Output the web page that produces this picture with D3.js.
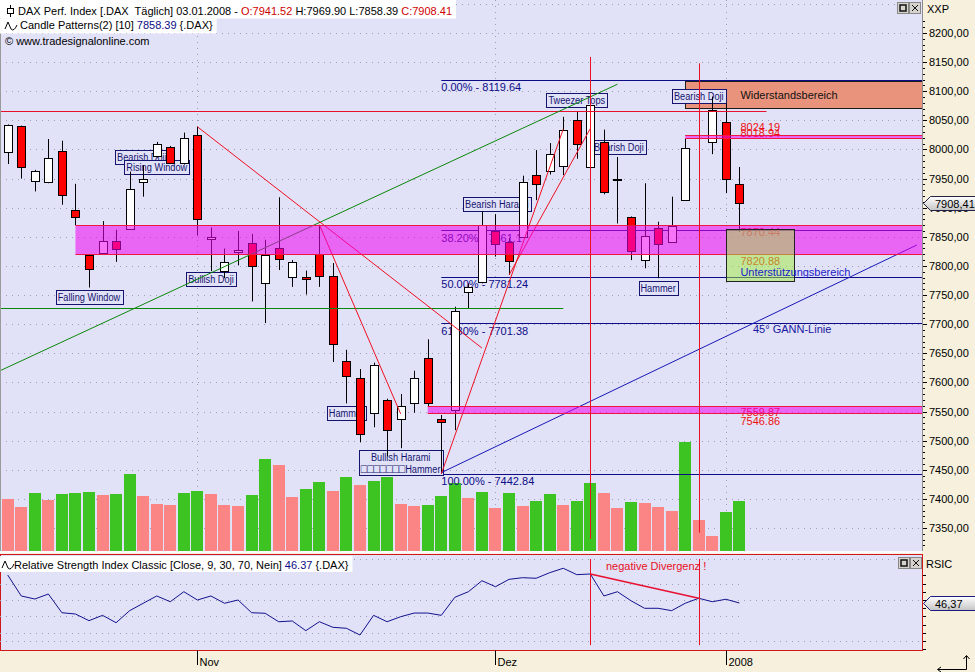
<!DOCTYPE html>
<html>
<head>
<meta charset="utf-8">
<title>DAX Perf. Index – Candle Patterns</title>
<script src="https://cdn.jsdelivr.net/npm/d3@7/dist/d3.min.js"></script>
<style>
  html, body { margin: 0; padding: 0; background: #f6f0dc; }
  svg { display: block; font-family: "Liberation Sans", Arial, sans-serif; font-size: 11px; }
  text { white-space: pre; }
</style>
</head>
<body>
<svg id="chart" width="975" height="672"></svg>
<script>
// ---- Daily DAX bars, 12.10.2007 – 03.01.2008 ----
const dates = [
  "2007-10-12","2007-10-15","2007-10-16","2007-10-17","2007-10-18","2007-10-19","2007-10-22","2007-10-23",
  "2007-10-24","2007-10-25","2007-10-26","2007-10-29","2007-10-30","2007-10-31","2007-11-01","2007-11-02",
  "2007-11-05","2007-11-06","2007-11-07","2007-11-08","2007-11-09","2007-11-12","2007-11-13","2007-11-14",
  "2007-11-15","2007-11-16","2007-11-19","2007-11-20","2007-11-21","2007-11-22","2007-11-23","2007-11-26",
  "2007-11-27","2007-11-28","2007-11-29","2007-11-30","2007-12-03","2007-12-04","2007-12-05","2007-12-06",
  "2007-12-07","2007-12-10","2007-12-11","2007-12-12","2007-12-13","2007-12-14","2007-12-17","2007-12-18",
  "2007-12-19","2007-12-20","2007-12-21","2007-12-27","2007-12-28","2008-01-02","2008-01-03"
];
const open = [
  7995, 8040, 7945, 7943, 7997, 7896, 7818, 7822, 7842, 7864, 7944, 7989, 8004, 7976, 8025, 7846,
  7791, 7823, 7839, 7770, 7830, 7781, 7781, 7821, 7782, 7636, 7607, 7548, 7570, 7538, 7564, 7642,
  7537, 7552, 7755, 7772, 7860, 7841, 7850, 7957, 7963, 7972, 8051, 7969, 8013, 7950, 7884, 7809,
  7865, 7842, 7913, 8038, 8012, 8047, 7941.52
];
const high = [
  8043, 8041, 7965, 8018, 8015, 7941, 7819, 7877, 7862, 7962, 7973, 8013, 8006, 8029, 8039, 7866,
  7830, 7860, 7855, 7845, 7918, 7810, 7792, 7870, 7805, 7656, 7623, 7634, 7572, 7580, 7620, 7674,
  7544, 7730, 7770, 7894, 7889, 7848, 7955, 7999, 8011, 8056, 8065, 8078, 8034, 7987, 7885, 7942,
  7876, 7919, 8018, 8042, 8091, 8079, 7969.90
];
const low = [
  7975, 7950, 7928, 7942, 7905, 7870, 7763, 7821, 7807, 7862, 7919, 7986, 7975, 7974, 7852, 7791,
  7779, 7801, 7739, 7702, 7793, 7764, 7751, 7764, 7635, 7564, 7497, 7523, 7473, 7487, 7548, 7558,
  7442.84, 7518, 7727, 7770, 7816, 7784.5, 7848, 7913, 7957, 7956, 7984, 7968, 7923, 7873, 7810, 7796,
  7779, 7841, 7912, 8031, 7992, 7925, 7858.39
];
const close = [
  8042, 7969, 7963, 7985, 7921, 7884, 7794, 7842, 7829, 7932, 7949, 8009, 7977, 8019, 7880, 7850,
  7806, 7827, 7800, 7818, 7811, 7806, 7777, 7783, 7666, 7610, 7511, 7630, 7518, 7560, 7607, 7565,
  7531, 7722, 7764, 7870, 7837, 7808, 7944, 7941, 7993, 8034, 8009, 8076, 7928, 7948, 7825, 7851,
  7838, 7869, 8002, 8038, 8067, 7949, 7908.41
];
// Turnover (Mio. shares)
const volume = [
  53, 45, 59, 52, 58, 59, 60, 57, 58, 78, 56, 48, 47, 59, 61, 58,
  47, 46, 57, 93, 87, 55, 63, 70, 61, 75, 67, 71, 75, 48, 46, 47,
  56, 69, 54, 60, 44, 59, 46, 51, 58, 47, 51, 69, 59, 44, 50, 49,
  45, 41, 110, 32, 16, 40, 51
];
// Relative Strength Index Classic (Close, 9)
const rsi = [
  80.5, 54.9, 51.2, 57.3, 34.5, 32.9, 24.8, 31.3, 22.3, 37.0, 46.0, 54.9, 47.9, 60.1, 50.0, 54.9,
  46.0, 50.0, 34.5, 33.8, 23.5, 24.4, 12.6, 23.5, 16.7, 15.5, 7.3, 31.3, 23.5, 29.6, 34.1, 34.1,
  31.3, 53.3, 60.1, 73.5, 66.2, 75.2, 77.2, 76.5, 83.3, 88.7, 80.9, 81.7, 54.9, 60.1, 49.1, 39.9,
  39.9, 37.0, 46.0, 52.1, 47.9, 50.9, 46.37
];

// Axis ticks
const monthTickIdx = [14, 36, 53];
const monthTickLabels = ["Nov", "Dez", "2008"];
const priceTicks = d3.range(7350, 8201, 50);
const rsiLevels = [10, 30, 50, 70];
const rsiGrid = [0, 50, 100];

// Fibonacci retracement
const fibPct = [0, 38.2, 50, 61.8, 100];
const fibValues = [8119.64, 7861.1, 7781.24, 7701.38, 7442.84];
const fibStartIdx = 32;

// Horizontal zones
const zoneLow = [7820.88, 7546.86, 8018.94];
const zoneHigh = [7870.44, 7559.87, 8024.19];
const zoneStart = [5, 31, 50];

// Resistance and support areas
const resistance = { label: "Widerstandsbereich", lo: 8071, hi: 8117, from: 50 };
const support = { label: "Unterstützungsbereich", lo: 7774, hi: 7863, from: 53, to: 58 };

// Trend lines as [bar index, price]
const redLines = [
  [[14, 8039], [35, 7659]],
  [[23, 7871], [29, 7546]],
  [[32, 7442.84], [41, 8035]],
  [[37, 7784.5], [43, 8036]]
];
const greenTrend = [[-0.57, 7620], [45, 8112]];
const gannLine = [[32, 7445], [67.1, 7836]];
const gannLabel = { text: "45° GANN-Linie", idx: 55, value: 7701.38 };
const redLevel = { value: 8066.6, from: -1, to: 56 };
const greenLevel = { value: 7727.3, from: -1, to: 41 };

// Vertical markers
const markerIdx = [43, 51];
const markerFrom = [7331, 7342];
const markerTo = [8159, 8148];

// Candle pattern annotations (centre bar index, top price)
const patternText = [
  ["Falling Window"], ["Bearish Doji"], ["Rising Window"], ["Bullish Doji"], ["Hammer"],
  ["Bullish Harami", "\u25A1\u25A1\u25A1\u25A1\u25A1\u25A1\u25A1Hammer"], ["Bearish Harami"],
  ["Tweezer Tops"], ["Bearish Doji"], ["Hammer"], ["Bearish Doji"]
];
const patternIdx = [6, 9.9, 11, 15, 25, 29, 36.1, 42, 45.1, 48, 51];
const patternPrice = [7759, 7999, 7982, 7789, 7560, 7483.5, 7919, 8096.5, 8016, 7774, 8104];

// RSI divergence
const divergence = { from: 43, to: 51, label: "negative Divergenz !", labelIdx: 44.15, labelValue: 86.6 };

// ---------------------------------------------------------------
const svg = d3.select("#chart");
const W = 975, H = 672;
const plotRight = 922;
const mainBottom = 551;
const rsiTop = 554.5, rsiBottom = 650.5;

const C = {
  beige: "#f6f0dc", lavender: "#e1e1f8", grid: "#9c9cb4",
  navy: "#0c0c86", red: "#ff0000", green: "#0b870b",
  volUp: "#3ec422", volDown: "#fb8484", zone: "#f000f0", zoneEdge: "#ee1744"
};

const x = d3.scaleLinear().domain([0, 54]).range([7.7, 739.4]);
const y = d3.scaleLinear().domain([7350, 8200]).range([528, 33]);
const yVol = d3.scaleLinear().domain([0, 110]).range([552, 442]);
const yRsi = d3.scaleLinear().domain([0, 100]).range([641, 559]);
const px = v => Math.round(v) + 0.5;
const fmtDE = d3.formatLocale({ decimal: ",", thousands: ".", grouping: [3], currency: ["", " €"] }).format(".2f");
const f2 = d3.format(".2f");

svg.append("rect").attr("width", W).attr("height", H).attr("fill", C.beige);

const defs = svg.append("defs");
defs.append("clipPath").attr("id", "clipMain").append("rect")
  .attr("x", 0).attr("y", 0).attr("width", plotRight).attr("height", mainBottom);
defs.append("clipPath").attr("id", "clipRsi").append("rect")
  .attr("x", 0).attr("y", rsiTop).attr("width", plotRight).attr("height", rsiBottom - rsiTop);
const grad = defs.append("linearGradient").attr("id", "tagGrad").attr("x1", 0).attr("y1", 0).attr("x2", 0).attr("y2", 1);
grad.append("stop").attr("offset", "0%").attr("stop-color", "#ffffff");
grad.append("stop").attr("offset", "100%").attr("stop-color", "#c4c4c4");

// ---------------- main panel ----------------
svg.append("rect").attr("x", 0).attr("y", 0).attr("width", plotRight).attr("height", mainBottom).attr("fill", C.lavender);
const main = svg.append("g").attr("clip-path", "url(#clipMain)");

// dotted grid
main.append("g").selectAll("line").data(d3.range(7300, 8251, 50)).join("line")
  .attr("x1", 0).attr("x2", plotRight).attr("y1", d => px(y(d))).attr("y2", d => px(y(d)))
  .attr("stroke", C.grid).attr("stroke-dasharray", "1,5");
main.append("g").selectAll("line").data(monthTickIdx).join("line")
  .attr("x1", d => px(x(d))).attr("x2", d => px(x(d))).attr("y1", 0).attr("y2", mainBottom)
  .attr("stroke", C.grid).attr("stroke-dasharray", "1,5");

// volume
main.append("g").selectAll("rect").data(volume).join("rect")
  .attr("x", (d, i) => Math.round(x(i)) - 6)
  .attr("y", d => yVol(d))
  .attr("width", 12)
  .attr("height", d => yVol(0) - yVol(d))
  .attr("fill", (d, i) => (i > 0 && d > volume[i - 1]) ? C.volUp : C.volDown);

// resistance area
const rx0 = x(resistance.from);
main.append("rect").attr("x", px(rx0)).attr("y", px(y(resistance.hi)))
  .attr("width", plotRight - rx0 + 5).attr("height", Math.round(y(resistance.lo) - y(resistance.hi)))
  .attr("fill", "#ea937c").attr("stroke", "#1c1c1c");
main.append("text").attr("x", x(54) + 1).attr("y", (y(resistance.hi) + y(resistance.lo)) / 2 + 4)
  .attr("fill", "#111").text(resistance.label);

// fibonacci retracement
const gFib = main.append("g");
fibValues.forEach((v, k) => {
  gFib.append("line").attr("x1", x(fibStartIdx)).attr("x2", plotRight)
    .attr("y1", px(y(v))).attr("y2", px(y(v))).attr("stroke", C.navy);
  gFib.append("text").attr("x", x(fibStartIdx)).attr("y", y(v) + 11.5).attr("fill", C.navy)
    .text(`${f2(fibPct[k])}% - ${v}`);
});

// pattern annotations (boxed, drawn under the candles)
const gPat = main.append("g");
patternText.forEach((lines, k) => {
  const cx = x(patternIdx[k]);
  const top = Math.round(y(patternPrice[k])) + 0.5;
  const g = gPat.append("g");
  const rect = g.append("rect").attr("fill", C.lavender).attr("stroke", "#14146e");
  const sx = 0.84;
  let wMax = 0;
  lines.forEach((t, j) => {
    const tg = g.append("g");
    const te = tg.append("text").attr("fill", "#14146e").attr("text-anchor", "middle");
    // runs of placeholder squares are set a little larger than the words
    (t.match(/\u25A1+|[^\u25A1]+/g) || []).forEach(run => {
      const ts = te.append("tspan").text(run);
      if (run[0] === "\u25A1") ts.attr("font-size", "12.5px").attr("dy", 0.5);
    });
    const w = te.node().getComputedTextLength() * sx;
    wMax = Math.max(wMax, w);
    tg.attr("transform", `translate(${cx},${top + 10.5 + j * 11.5}) scale(${sx},1)`);
  });
  const bw = Math.round(wMax + 4);
  const bh = lines.length === 1 ? 14 : 25;
  rect.attr("x", Math.round(cx - bw / 2) + 0.5).attr("y", top).attr("width", bw).attr("height", bh);
});

// candles
const gCandle = main.append("g");
const bars = d3.range(open.length);
gCandle.selectAll("line").data(bars).join("line")
  .attr("x1", i => px(x(i))).attr("x2", i => px(x(i)))
  .attr("y1", i => y(high[i])).attr("y2", i => y(low[i]))
  .attr("stroke", "#000");
gCandle.selectAll("rect").data(bars).join("rect")
  .attr("x", i => px(x(i)) - 4)
  .attr("y", i => Math.round(y(Math.max(open[i], close[i]))) + 0.5)
  .attr("width", 8)
  .attr("height", i => Math.max(0, Math.round(y(Math.min(open[i], close[i])) - y(Math.max(open[i], close[i])))))
  .attr("fill", i => close[i] >= open[i] ? "#ffffff" : C.red)
  .attr("stroke", "#000");

// level lines and trend lines
const seg = d3.line().x(d => x(d[0])).y(d => y(d[1]));
main.append("line").attr("x1", x(redLevel.from)).attr("x2", x(redLevel.to))
  .attr("y1", px(y(redLevel.value))).attr("y2", px(y(redLevel.value))).attr("stroke", "#e8102c");
main.append("line").attr("x1", x(greenLevel.from)).attr("x2", x(greenLevel.to))
  .attr("y1", px(y(greenLevel.value))).attr("y2", px(y(greenLevel.value))).attr("stroke", C.green);
main.append("path").attr("d", seg(greenTrend)).attr("fill", "none").attr("stroke", C.green);
main.append("path").attr("d", seg(gannLine)).attr("fill", "none").attr("stroke", "#1818b8");
main.append("g").selectAll("path").data(redLines).join("path")
  .attr("d", seg).attr("fill", "none").attr("stroke", "#f01020");

// zone labels
const zoneLabelOffset = [[11, 11], [10, 11.5], [-4, -1]];
const gZoneLbl = main.append("g");
zoneHigh.forEach((hi, k) => {
  gZoneLbl.append("text").attr("x", x(54) + 1).attr("y", y(hi) + zoneLabelOffset[k][0]).attr("fill", "#ee1010").text(String(hi));
  gZoneLbl.append("text").attr("x", x(54) + 1).attr("y", y(zoneLow[k]) + zoneLabelOffset[k][1]).attr("fill", "#ee1010").text(String(zoneLow[k]));
});

// magenta zones
const gZone = main.append("g");
zoneHigh.forEach((hi, k) => {
  const x0 = x(zoneStart[k]);
  const yt = px(y(hi)), yb = px(y(zoneLow[k]));
  gZone.append("rect").attr("x", x0).attr("y", yt).attr("width", plotRight - x0).attr("height", yb - yt)
    .attr("fill", C.zone).attr("fill-opacity", 0.55);
  [yt, yb].forEach(yy => gZone.append("line").attr("x1", x0).attr("x2", plotRight)
    .attr("y1", yy).attr("y2", yy).attr("stroke", C.zoneEdge));
});

// support area
const sx0 = px(x(support.from)), sx1 = px(x(support.to));
const sy0 = px(y(support.hi)), sy1 = px(y(support.lo));
main.append("rect").attr("x", sx0).attr("y", sy0).attr("width", sx1 - sx0).attr("height", sy1 - sy0)
  .attr("fill", "rgb(160,235,60)").attr("fill-opacity", 0.5).attr("stroke", "#222");
main.append("text").attr("x", x(54) + 1).attr("y", sy1 - 6).attr("fill", "#1c1cc8").text(support.label);

// GANN label
main.append("text").attr("x", x(gannLabel.idx)).attr("y", y(gannLabel.value) + 10)
  .attr("fill", "#1818a0").text(gannLabel.text);

// vertical markers
main.append("g").selectAll("line").data(markerIdx).join("line")
  .attr("x1", d => px(x(d))).attr("x2", d => px(x(d)))
  .attr("y1", (d, k) => y(markerTo[k])).attr("y2", (d, k) => y(markerFrom[k]))
  .attr("stroke", "#ee1020");

// left border and bottom edge
svg.append("line").attr("x1", 0.5).attr("x2", 0.5).attr("y1", 0).attr("y2", mainBottom).attr("stroke", "#9a9a9a");
svg.append("rect").attr("x", 0).attr("y", mainBottom).attr("width", plotRight).attr("height", 2).attr("fill", "#fbfbff");

// ---------------- header ----------------
function headerRow(yBase, parts, bgTop, bgH, withBg, x0) {
  const g = svg.append("g");
  const bg = g.append("rect").attr("fill", "#ffffff");
  const t = g.append("text").attr("x", x0).attr("y", yBase);
  parts.forEach(p => t.append("tspan").attr("fill", p[1]).text(p[0]));
  const w = t.node().getComputedTextLength();
  if (withBg) bg.attr("x", 0).attr("y", bgTop).attr("width", x0 + w + 4).attr("height", bgH);
  else bg.remove();
  return g;
}
const lastDate = d3.timeFormat("%d.%m.%Y")(d3.timeParse("%Y-%m-%d")(dates[dates.length - 1]));
const L = open.length - 1;
headerRow(14.5, [
  [`DAX Perf. Index [.DAX  Täglich] ${lastDate} - `, "#000"],
  [`O:${f2(open[L])}`, "#d00000"],
  [` H:${f2(high[L])} L:${f2(low[L])} `, "#000"],
  [`C:${f2(close[L])}`, "#d00000"]
], 0, 18.5, true, 18);
headerRow(29, [
  ["Candle Patterns(2) [10] ", "#000"], [f2(low[L]), C.navy], [" {.DAX}", "#000"]
], 18.5, 15, true, 20);
headerRow(45, [["© www.tradesignalonline.com", "#000"]], 0, 0, false, 5);

// small bar icon and wave icons
svg.append("line").attr("x1", 10.5).attr("x2", 10.5).attr("y1", 5).attr("y2", 17).attr("stroke", "#000");
svg.append("rect").attr("x", 7.5).attr("y", 8.5).attr("width", 6).attr("height", 5).attr("fill", "#fff").attr("stroke", "#000");
const wave = (x0, y0) => svg.append("path")
  .attr("d", `M${x0},${y0 + 4} L${x0 + 3},${y0 - 3} L${x0 + 6},${y0 + 4} Q${x0 + 9},${y0 + 7} ${x0 + 12},${y0}`)
  .attr("fill", "none").attr("stroke", "#000");
wave(5, 25);

// window buttons
function buttons(x0, y0) {
  const g = svg.append("g");
  g.append("rect").attr("x", x0).attr("y", y0).attr("width", 11).attr("height", 11).attr("fill", "#d6d3ce").attr("stroke", "#888");
  g.append("rect").attr("x", x0 + 2.5).attr("y", y0 + 2.5).attr("width", 6).attr("height", 6).attr("fill", "none").attr("stroke", "#111").attr("stroke-width", 1.5);
  g.append("rect").attr("x", x0 + 12).attr("y", y0).attr("width", 11).attr("height", 11).attr("fill", "#d6d3ce").attr("stroke", "#888");
  g.append("path").attr("d", `M${x0 + 14.5},${y0 + 2.5} L${x0 + 20.5},${y0 + 8.5} M${x0 + 20.5},${y0 + 2.5} L${x0 + 14.5},${y0 + 8.5}`).attr("stroke", "#111");
}
buttons(897.5, 2.5);

// ---------------- right price axis ----------------
svg.append("line").attr("x1", plotRight + 0.5).attr("x2", plotRight + 0.5).attr("y1", 0).attr("y2", mainBottom).attr("stroke", "#8c8c8c");
svg.append("text").attr("x", 927).attr("y", 13).attr("fill", "#000").text("XXP");
const minor = d3.range(7290, 8261, 10).filter(v => y(v) > 16 && y(v) < mainBottom);
svg.append("g").selectAll("line").data(minor).join("line")
  .attr("x1", plotRight + 1).attr("x2", d => plotRight + (d % 50 === 0 ? 5 : 3))
  .attr("y1", d => px(y(d))).attr("y2", d => px(y(d))).attr("stroke", "#000");
svg.append("g").selectAll("text").data(priceTicks).join("text")
  .attr("x", 929).attr("y", d => y(d) + 4).attr("fill", "#000").text(d => fmtDE(d));

function tag(yy, txt, stroke) {
  const yc = Math.round(yy) + 0.5;
  svg.append("path")
    .attr("d", `M${plotRight + 1.5},${yc} L${plotRight + 8.5},${yc - 7} H980 V${yc + 7} H${plotRight + 8.5} Z`)
    .attr("fill", "url(#tagGrad)").attr("stroke", stroke);
  svg.append("text").attr("x", 935).attr("y", yc + 4).attr("fill", "#000").text(txt);
}
tag(y(close[L]), fmtDE(close[L]), "#222244");

// ---------------- RSI panel ----------------
svg.append("rect").attr("x", 0.5).attr("y", rsiTop).attr("width", plotRight).attr("height", rsiBottom - rsiTop)
  .attr("fill", C.lavender).attr("stroke", "#d01818");
const rp = svg.append("g").attr("clip-path", "url(#clipRsi)");
rp.append("g").selectAll("line").data(rsiGrid).join("line")
  .attr("x1", 0).attr("x2", plotRight).attr("y1", d => px(yRsi(d))).attr("y2", d => px(yRsi(d)))
  .attr("stroke", C.grid).attr("stroke-dasharray", "1,5");
rp.append("g").selectAll("line").data(rsiLevels).join("line")
  .attr("x1", 0).attr("x2", x(open.length - 1)).attr("y1", d => px(yRsi(d))).attr("y2", d => px(yRsi(d)))
  .attr("stroke", C.grid).attr("stroke-dasharray", "1,5");
rp.append("path").datum(rsi)
  .attr("d", d3.line().x((d, i) => x(i)).y(d => yRsi(d)))
  .attr("fill", "none").attr("stroke", "#12128c");
rp.append("g").selectAll("line").data(markerIdx).join("line")
  .attr("x1", d => px(x(d))).attr("x2", d => px(x(d)))
  .attr("y1", yRsi(100)).attr("y2", yRsi(-5)).attr("stroke", "#ee1020");
rp.append("line")
  .attr("x1", x(divergence.from)).attr("y1", yRsi(rsi[divergence.from]))
  .attr("x2", x(divergence.to)).attr("y2", yRsi(rsi[divergence.to]))
  .attr("stroke", "#e81030").attr("stroke-width", 1.5);
rp.append("text").attr("x", x(divergence.labelIdx)).attr("y", yRsi(divergence.labelValue))
  .attr("fill", "#e81020").text(divergence.label);

headerRow(569, [
  ["Relative Strength Index Classic [Close, 9, 30, 70, Nein] ", "#000"],
  [f2(rsi[L]), C.navy], [" {.DAX}", "#000"]
], 556, 16, true, 14);
wave(2, 564);
buttons(898.5, 557.5);

svg.append("text").attr("x", 926).attr("y", 568).attr("fill", "#000").text("RSIC");
const rsiTicks = d3.range(-10, 101, 10).filter(v => yRsi(v) > 570 && yRsi(v) < rsiBottom);
svg.append("g").selectAll("line").data(rsiTicks).join("line")
  .attr("x1", plotRight + 1).attr("x2", plotRight + 4)
  .attr("y1", d => px(yRsi(d))).attr("y2", d => px(yRsi(d))).attr("stroke", "#000");
tag(yRsi(rsi[L]), fmtDE(rsi[L]), "#1a1a80");

// ---------------- time axis ----------------
monthTickIdx.forEach((d, k) => {
  const xx = px(x(d));
  svg.append("line").attr("x1", xx).attr("x2", xx).attr("y1", rsiBottom).attr("y2", 665).attr("stroke", "#000");
  svg.append("text").attr("x", xx + 2).attr("y", 666).attr("fill", "#000").text(monthTickLabels[k]);
});

// corner arrow icon
svg.append("path").attr("d", "M938,669.5 H966.5 V656 M963.5,659 L966.5,655.5 L969.5,659 M941,667 L937.5,669.5 L941,672")
  .attr("fill", "none").attr("stroke", "#000");
</script>
</body>
</html>
